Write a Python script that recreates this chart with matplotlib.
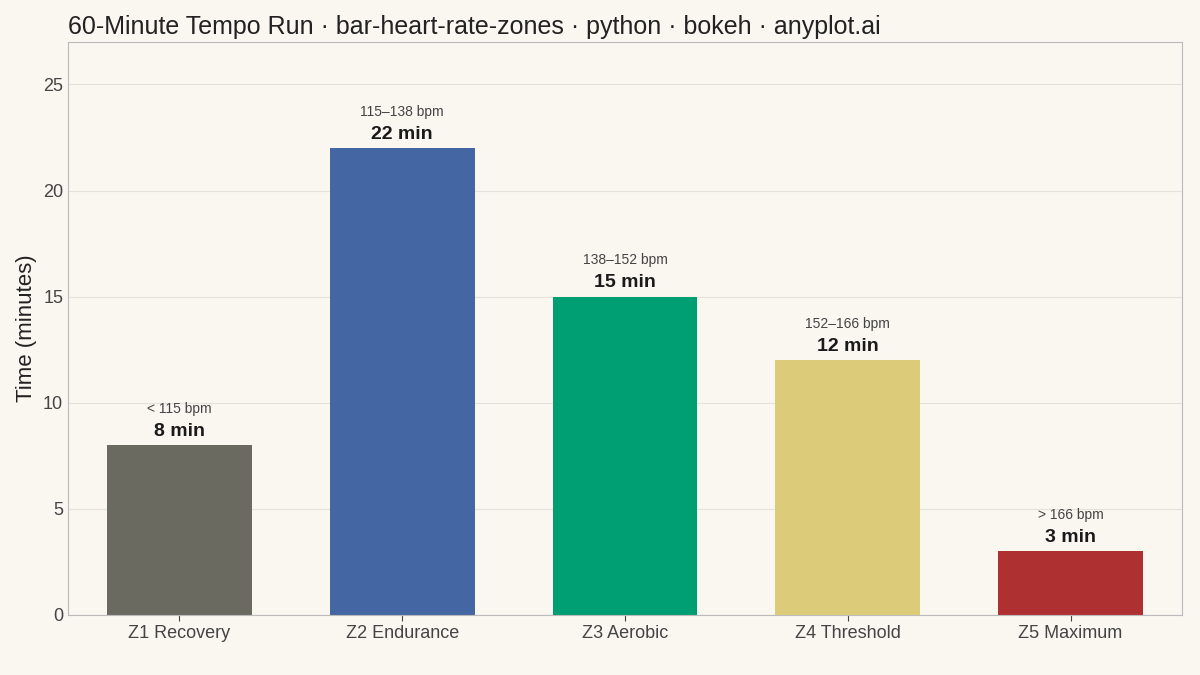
import matplotlib
matplotlib.use("Agg")
import matplotlib.pyplot as plt

zones = ["Z1 Recovery", "Z2 Endurance", "Z3 Aerobic", "Z4 Threshold", "Z5 Maximum"]
minutes = [8, 22, 15, 12, 3]
bpm_ranges = ["< 115 bpm", "115–138 bpm", "138–152 bpm", "152–166 bpm", "> 166 bpm"]
colors = ["#6B6A61", "#4466A3", "#009E73", "#DCCB78", "#AE3031"]

plt.rcParams['font.family'] = ['Liberation Sans', 'DejaVu Sans']
bg = "#FAF7F1"
fig = plt.figure(figsize=(12, 6.75), dpi=100, facecolor=bg)
ax = fig.add_axes([0.0567, 0.0889, 0.9283, 0.8489], facecolor=bg)

x = list(range(len(zones)))
ax.bar(x, minutes, width=0.65, color=colors, zorder=2)
for xi, m, r in zip(x, minutes, bpm_ranges):
    ax.annotate(f"{m} min", (xi, m), xytext=(0, 4), textcoords="offset points",
                ha="center", va="bottom", fontsize=14, fontweight="bold", color="#1a1a1a")
    ax.annotate(r, (xi, m), xytext=(0, 21), textcoords="offset points",
                ha="center", va="bottom", fontsize=10, color="#444444")

ax.set_xlim(-0.5, 4.5)
ax.set_ylim(0, 27)
ax.set_yticks([0, 5, 10, 15, 20, 25])
ax.set_xticks(x)
ax.set_xticklabels(zones)
ax.tick_params(axis="both", labelsize=13, colors="#444444", length=4)
ax.tick_params(axis="y", length=0)
ax.yaxis.grid(True, color="#e6e2da", linewidth=0.8, zorder=0)
ax.set_axisbelow(True)
for s in ax.spines.values():
    s.set_color("#bbbbbb")
ax.set_ylabel("Time (minutes)", fontsize=16, color="#222222")
fig.text(0.0567, 0.96, "60-Minute Tempo Run · bar-heart-rate-zones · python · bokeh · anyplot.ai",
         fontsize=18, color="#222222", va="center", ha="left")
fig.savefig("out.png", dpi=100, facecolor=bg)
